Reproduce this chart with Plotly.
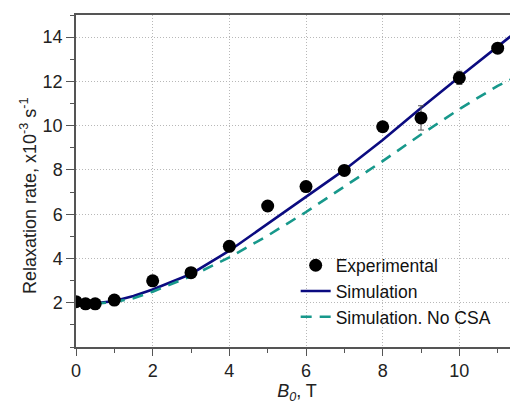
import plotly.graph_objects as go

# Experimental data
exp_b0 = [0, 0.25, 0.5, 1, 2, 3, 4, 5, 6, 7, 8, 9, 10, 11]
exp_rate = [2.05, 1.95, 1.95, 2.12, 2.99, 3.36, 4.55, 6.37, 7.25, 7.98, 9.95, 10.35, 12.16, 13.5]
exp_err = [0.05, 0.05, 0.05, 0.05, 0.05, 0.05, 0.05, 0.05, 0.05, 0.05, 0.05, 0.55, 0.3, 0.1]

# Simulation curves
sim_b0 = [0, 0.5, 1, 1.5, 2, 3, 4, 5, 6, 7, 8, 9, 10, 11, 11.6]
sim_rate = [1.95, 1.97, 2.08, 2.3, 2.6, 3.3, 4.35, 5.57, 6.8, 8.0, 9.35, 10.8, 12.2, 13.6, 14.4]
nocsa_rate = [1.95, 1.96, 2.03, 2.2, 2.5, 3.2, 4.05, 5.03, 6.1, 7.25, 8.4, 9.6, 10.75, 11.8, 12.3]

x_ticks = [0, 2, 4, 6, 8, 10]
y_ticks = [2, 4, 6, 8, 10, 12, 14]

FONT = "Liberation Sans, Arial, sans-serif"

fig = go.Figure()
fig.add_trace(go.Scatter(
    x=sim_b0, y=sim_rate, mode="lines", name="Simulation", legendrank=2,
    line=dict(color="#0b0b80", width=2.6)))
fig.add_trace(go.Scatter(
    x=sim_b0, y=nocsa_rate, mode="lines", name="Simulation. No CSA", legendrank=3,
    line=dict(color="#17988b", width=2.6, dash="11px,8px")))
fig.add_trace(go.Scatter(
    x=exp_b0, y=exp_rate, mode="markers", name="Experimental", legendrank=1,
    marker=dict(color="black", size=13),
    error_y=dict(type="data", array=exp_err, color="#555555", thickness=1, width=3)))

# page body has an 8px margin; keep the figure inside the window to avoid scrollbars
fig.update_layout(
    width=510, height=396,
    margin=dict(l=68, r=0, t=7, b=57),
    paper_bgcolor="white", plot_bgcolor="white",
    font=dict(family=FONT, size=18, color="#222222"),
    showlegend=True,
    legend=dict(x=0.497, y=0.30, xanchor="left", yanchor="top",
                bgcolor="rgba(0,0,0,0)", font=dict(size=17.5, color="#111111"),
                traceorder="normal", tracegroupgap=0),
    annotations=[dict(
        text="Relaxation rate, x10<sup>-3</sup> s<sup>-1</sup>",
        xref="paper", yref="paper", x=-48/442, y=(347-196)/332,
        xanchor="center", yanchor="middle", textangle=-90, showarrow=False,
        font=dict(size=18, color="#222222"))],
)
fig.update_xaxes(
    range=[0, 11.53], tickvals=x_ticks, ticktext=[str(v) for v in x_ticks],
    showline=True, linecolor="#555555", linewidth=1.5, mirror=True,
    ticks="outside", ticklen=7, tickcolor="#555555", tickwidth=1.2,
    minor=dict(dtick=1, tick0=0, ticks="outside", ticklen=4, tickcolor="#555555", showgrid=False),
    showgrid=True, gridcolor="#b8b8b8", griddash="1px,2px", gridwidth=1,
    zeroline=False, automargin=False,
    title=dict(text="<i>B<sub>0</sub></i>, T", standoff=17, font=dict(size=18)),
    tickfont=dict(size=18, color="#222222"))
fig.update_yaxes(
    range=[0, 15], tickvals=y_ticks, ticktext=[str(v) for v in y_ticks],
    showline=True, linecolor="#555555", linewidth=1.5,
    ticks="outside", ticklen=8, tickcolor="#555555", tickwidth=1.2,
    minor=dict(dtick=1, tick0=1, ticks="outside", ticklen=4, tickcolor="#555555", showgrid=False),
    showgrid=True, gridcolor="#b8b8b8", griddash="1px,2px", gridwidth=1,
    zeroline=False, automargin=False,
    tickfont=dict(size=18, color="#222222"))

fig.write_html("out.html")
